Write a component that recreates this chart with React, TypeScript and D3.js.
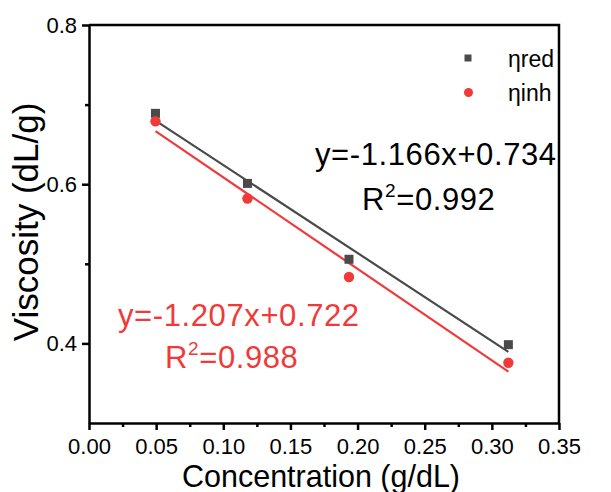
import React, { useEffect, useRef } from "react";
import * as d3 from "d3";

// concentration (g/dL)
const conc = [0.0495, 0.118, 0.1936, 0.3123];
// reduced and inherent viscosity (dL/g)
const etaRed = [0.689, 0.601, 0.5057, 0.3984];
const etaInh = [0.679, 0.582, 0.4834, 0.3757];

const seriesNames = ["ηred", "ηinh"];
const fitLabels = [
  ["y=-1.166x+0.734", "0.992"],
  ["y=-1.207x+0.722", "0.988"],
];
const xTicks = [0, 0.05, 0.1, 0.15, 0.2, 0.25, 0.3, 0.35];
const yTicks = [0.4, 0.6, 0.8];

const GRAY = "#4a4a4a";
const RED = "#f03a3a";
const FONT = "Liberation Sans, Arial, Helvetica, sans-serif";

const fit = (xs: number[], ys: number[]) => {
  const mx = d3.mean(xs)!;
  const my = d3.mean(ys)!;
  let sxy = 0,
    sxx = 0;
  xs.forEach((x, i) => {
    sxy += (x - mx) * (ys[i] - my);
    sxx += (x - mx) * (x - mx);
  });
  const k = sxy / sxx;
  return { k, b: my - k * mx };
};

const App = () => {
  const ref = useRef<SVGSVGElement>(null);

  useEffect(() => {
    const width = 611,
      height = 492,
      left = 89,
      right = 559,
      top = 25,
      bottom = 423;

    const x = d3.scaleLinear().domain([0, 0.35]).range([left, right]);
    const y = d3.scaleLinear().domain([0.3, 0.8]).range([bottom, top]);

    const svg = d3.select(ref.current);
    svg.selectAll("*").remove();
    svg.attr("width", width).attr("height", height);

    // frame
    svg
      .append("path")
      .attr("d", `M${left},${top}H${right}V${bottom}`)
      .attr("fill", "none")
      .attr("stroke", "#000")
      .attr("stroke-width", 2.5);

    // minor ticks
    svg
      .append("g")
      .attr("transform", `translate(0,${bottom})`)
      .call(
        d3
          .axisBottom(x)
          .tickValues(d3.range(0.025, 0.35, 0.05))
          .tickSize(4)
          .tickFormat(() => "")
      )
      .call(g => g.select(".domain").remove())
      .selectAll("line")
      .attr("stroke-width", 2.5);

    svg
      .append("g")
      .attr("transform", `translate(${left},0)`)
      .call(
        d3
          .axisLeft(y)
          .tickValues([0.5, 0.7])
          .tickSize(4)
          .tickFormat(() => "")
      )
      .call(g => g.select(".domain").remove())
      .selectAll("line")
      .attr("stroke-width", 2.5);

    const xAxis = svg
      .append("g")
      .attr("transform", `translate(0,${bottom})`)
      .call(
        d3
          .axisBottom(x)
          .tickValues(xTicks)
          .tickSize(7)
          .tickSizeOuter(0)
          .tickPadding(8)
          .tickFormat(d3.format(".2f"))
      );
    xAxis.select(".domain").attr("stroke-width", 2.5);
    xAxis.selectAll("line").attr("stroke-width", 2.5);
    xAxis
      .selectAll("text")
      .attr("font-family", FONT)
      .attr("font-size", 22)
      .attr("fill", "#000");

    const yAxis = svg
      .append("g")
      .attr("transform", `translate(${left},0)`)
      .call(
        d3
          .axisLeft(y)
          .tickValues(yTicks)
          .tickSize(7)
          .tickSizeOuter(0)
          .tickPadding(5)
          .tickFormat(d3.format(".1f"))
      );
    yAxis.select(".domain").attr("stroke-width", 2.5);
    yAxis.selectAll("line").attr("stroke-width", 2.5);
    yAxis
      .selectAll("text")
      .attr("font-family", FONT)
      .attr("font-size", 22)
      .attr("fill", "#000");

    // axis titles
    svg
      .append("text")
      .attr("x", 321)
      .attr("y", 487)
      .attr("text-anchor", "middle")
      .attr("font-family", FONT)
      .attr("font-size", 30.5)
      .text("Concentration (g/dL)");

    svg
      .append("text")
      .attr("transform", `translate(38,${(top + bottom) / 2 - 2}) rotate(-90)`)
      .attr("text-anchor", "middle")
      .attr("font-family", FONT)
      .attr("font-size", 35)
      .text("Viscosity (dL/g)");

    // fit lines
    const series = [
      { ys: etaRed, color: GRAY },
      { ys: etaInh, color: RED },
    ];
    series.forEach(s => {
      const { k, b } = fit(conc, s.ys);
      const x0 = d3.min(conc)!,
        x1 = d3.max(conc)!;
      svg
        .append("line")
        .attr("x1", x(x0))
        .attr("y1", y(k * x0 + b))
        .attr("x2", x(x1))
        .attr("y2", y(k * x1 + b))
        .attr("stroke", s.color)
        .attr("stroke-width", 2.2);
    });

    // points
    svg
      .selectAll("rect.red")
      .data(etaRed)
      .enter()
      .append("rect")
      .attr("class", "red")
      .attr("x", (d, i) => x(conc[i]) - 4.5)
      .attr("y", d => y(d) - 4.5)
      .attr("width", 9)
      .attr("height", 9)
      .attr("fill", GRAY);

    svg
      .selectAll("circle.inh")
      .data(etaInh)
      .enter()
      .append("circle")
      .attr("class", "inh")
      .attr("cx", (d, i) => x(conc[i]))
      .attr("cy", d => y(d))
      .attr("r", 5.2)
      .attr("fill", RED);

    // legend
    const lg = svg.append("g").attr("font-family", FONT).attr("font-size", 23);
    lg.append("rect").attr("x", 464.5).attr("y", 54.5).attr("width", 7).attr("height", 7).attr("fill", GRAY);
    lg.append("text").attr("x", 508).attr("y", 67).text(seriesNames[0]);
    lg.append("circle").attr("cx", 468.5).attr("cy", 92.5).attr("r", 4.5).attr("fill", RED);
    lg.append("text").attr("x", 508).attr("y", 101).text(seriesNames[1]);

    // equations
    const eqPos = [
      { x: 315, y: 165, rx: 362, ry: 210, color: "#000" },
      { x: 118, y: 326, rx: 165, ry: 368, color: RED },
    ];
    eqPos.forEach((p, i) => {
      const g = svg
        .append("g")
        .attr("font-family", FONT)
        .attr("font-size", 31)
        .attr("letter-spacing", 0.6)
        .attr("fill", p.color);
      g.append("text").attr("x", p.x).attr("y", p.y).text(fitLabels[i][0]);
      const t = g.append("text").attr("x", p.rx).attr("y", p.ry);
      t.append("tspan").text("R");
      t.append("tspan").attr("font-size", 19).attr("dy", -13).text("2");
      t.append("tspan").attr("dy", 13).text("=" + fitLabels[i][1]);
    });
  }, []);

  return (
    <svg
      ref={ref}
      style={{ position: "absolute", left: 0, top: 0, display: "block", background: "#fff" }}
    />
  );
};

export default App;
